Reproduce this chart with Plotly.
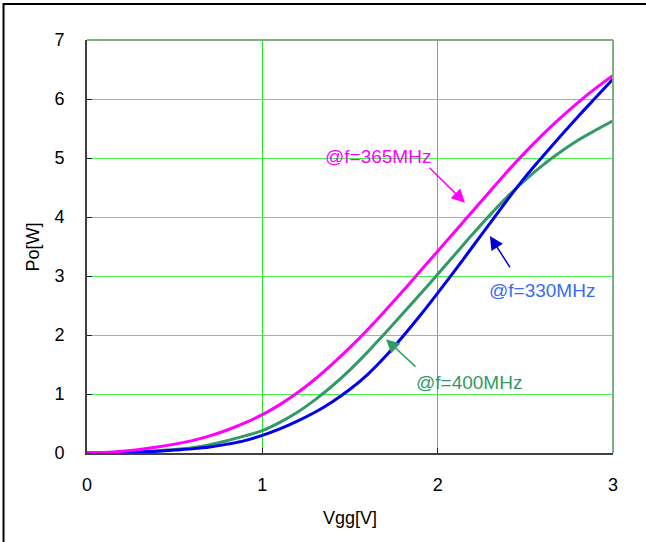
import plotly.graph_objects as go

# Gate voltage sweep (V)
vgg = [0.0, 0.1, 0.2, 0.3, 0.4, 0.5, 0.6, 0.7, 0.8, 0.9, 1.0,
       1.1, 1.2, 1.3, 1.4, 1.5, 1.6, 1.7, 1.8, 1.9, 2.0,
       2.1, 2.2, 2.3, 2.4, 2.5, 2.6, 2.7, 2.8, 2.9, 3.0]

# Output power (W) at each frequency
po_330 = [0.00, 0.00, 0.01, 0.02, 0.03, 0.05, 0.07, 0.10, 0.15, 0.21, 0.30,
          0.41, 0.54, 0.69, 0.87, 1.08, 1.33, 1.63, 1.97, 2.33, 2.71,
          3.10, 3.50, 3.90, 4.30, 4.68, 5.03, 5.37, 5.70, 6.02, 6.34]
po_365 = [0.00, 0.01, 0.03, 0.06, 0.10, 0.15, 0.21, 0.29, 0.39, 0.51, 0.65,
          0.82, 1.02, 1.25, 1.51, 1.79, 2.09, 2.41, 2.74, 3.08, 3.42,
          3.76, 4.10, 4.44, 4.78, 5.10, 5.40, 5.68, 5.94, 6.18, 6.40]
po_400 = [0.00, 0.00, 0.01, 0.02, 0.04, 0.06, 0.09, 0.14, 0.21, 0.29, 0.38,
          0.52, 0.69, 0.90, 1.14, 1.41, 1.71, 2.03, 2.36, 2.69, 3.03,
          3.37, 3.71, 4.04, 4.35, 4.63, 4.88, 5.10, 5.30, 5.47, 5.63]

x_ticks = [0, 1, 2, 3]
y_ticks = [0, 1, 2, 3, 4, 5, 6, 7]

# Curve labels: text, label position, arrow tail, arrow tip, text colour, arrow colour
labels = [
    ("@f=365MHz", (1.66, 5.02), (1.945, 4.86), (2.156, 4.24), "#ff00ff", "#ff00ff"),
    ("@f=330MHz", (2.595, 2.76), (2.418, 3.12), (2.298, 3.68), "#3a6cf0", "#0000cc"),
    ("@f=400MHz", (2.176, 1.20), (1.882, 1.44), (1.705, 1.93), "#339966", "#339966"),
]

FONT = "Liberation Sans, Arial, sans-serif"

fig = go.Figure()
for ys, col in [(po_400, "#339966"), (po_330, "#0000ee"), (po_365, "#ff00ff")]:
    fig.add_trace(go.Scatter(x=vgg, y=ys, mode="lines",
                             line=dict(color=col, width=3, shape="spline", smoothing=1.0),
                             showlegend=False, hoverinfo="skip"))

annotations = []
for text, (tx, ty), (ax, ay), (hx, hy), tcol, acol in labels:
    annotations.append(dict(x=tx, y=ty, xref="x", yref="y", text=text, showarrow=False,
                            font=dict(family=FONT, size=19, color=tcol)))
    annotations.append(dict(x=hx, y=hy, xref="x", yref="y", ax=ax, ay=ay,
                            axref="x", ayref="y", text="", showarrow=True,
                            arrowhead=2, arrowsize=1.8, arrowwidth=1.5, arrowcolor=acol))

annotations.append(dict(x=0.5, y=-0.157, xref="paper", yref="paper", text="Vgg[V]",
                        showarrow=False, yanchor="middle",
                        font=dict(family=FONT, size=18, color="#000000")))
annotations.append(dict(x=-0.1027, y=0.5, xref="paper", yref="paper", text="Po[W]",
                        showarrow=False, textangle=-90, xanchor="center", yanchor="middle",
                        font=dict(family=FONT, size=18, color="#000000")))

shapes = [
    # muted top/right frame of the plotting area
    dict(type="line", xref="paper", yref="paper", x0=0, x1=1, y0=1, y1=1,
         line=dict(color="#7fae7f", width=2)),
    dict(type="line", xref="paper", yref="paper", x0=1, x1=1, y0=0, y1=1,
         line=dict(color="#7fae7f", width=2)),
    # outer frame
    dict(type="rect", xref="paper", yref="paper", x0=-0.1587, x1=1.08, y0=-0.24, y1=1.0872,
         line=dict(color="#000000", width=2), fillcolor="rgba(0,0,0,0)", layer="above"),
]

axis_common = dict(showgrid=True, gridwidth=1,
                   showline=True, linecolor="#404040", linewidth=2,
                   ticks="inside", ticklen=5, tickcolor="#202020", tickwidth=1,
                   zeroline=False, tickfont=dict(family=FONT, size=18, color="#000000"))

fig.update_layout(
    width=646, height=542,
    margin=dict(l=87, r=33, t=40, b=89),
    paper_bgcolor="white", plot_bgcolor="white",
    xaxis=dict(range=[0, 3], tickvals=x_ticks, ticklabelstandoff=14,
               gridcolor="#22e822", **axis_common),
    yaxis=dict(range=[0, 7], tickvals=y_ticks, ticklabelstandoff=17,
               gridcolor="#4cee4c", **axis_common),
    annotations=annotations, shapes=shapes,
)

fig.write_html("out.html")
